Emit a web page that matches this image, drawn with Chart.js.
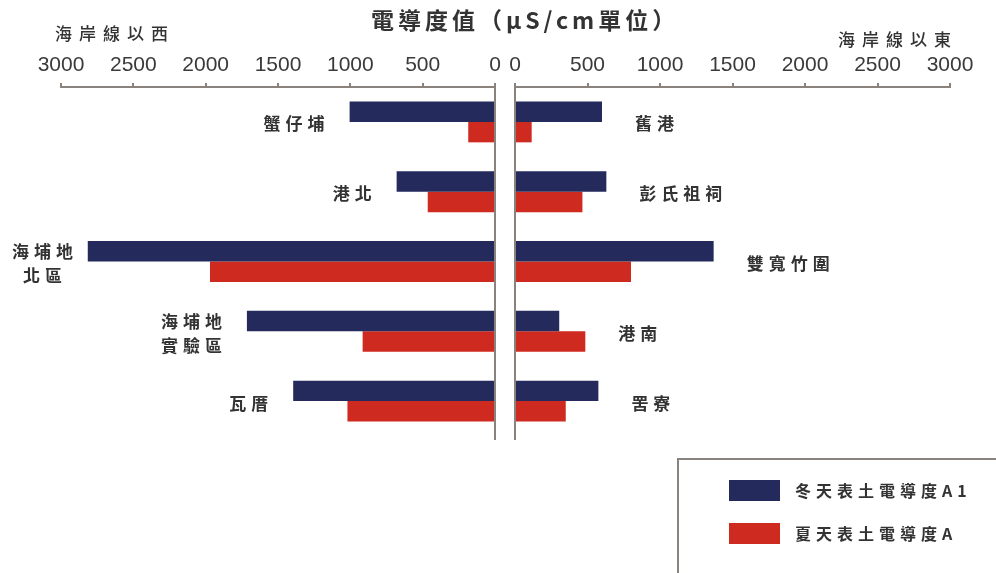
<!DOCTYPE html>
<html>
<head>
<meta charset="utf-8">
<script src="https://cdn.jsdelivr.net/npm/chart.js@4"></script>
<style>
  html, body { margin: 0; padding: 0; background: #fff; }
  body { width: 996px; height: 573px; position: relative; overflow: hidden; font-family: "Noto Sans CJK TC", sans-serif; color: #333; }
  canvas { position: absolute; left: 0; top: 0; }
  .txt { position: absolute; white-space: nowrap; line-height: 1; font-weight: 700; }
  #title { left: 371px; top: 8px; font-size: 23px; letter-spacing: 4px; }
  #west { left: 55px; top: 24px; font-size: 17px; letter-spacing: 7px; font-weight: 500; }
  #east { left: 838px; top: 30px; font-size: 17px; letter-spacing: 7px; font-weight: 500; }
  #legend { position: absolute; left: 677px; top: 458px; width: 340px; height: 200px; border: 2px solid #8a837d; }
  .item { position: absolute; left: 50px; height: 22px; }
  .sw { position: absolute; left: 0; top: 0; width: 51px; height: 21px; }
  .lab { position: absolute; left: 66px; top: 2px; font-size: 16px; letter-spacing: 5px; font-weight: 700; white-space: nowrap; line-height: 1; }
</style>
</head>
<body>
<canvas id="westChart" width="996" height="573"></canvas>
<canvas id="eastChart" width="996" height="573"></canvas>
<div class="txt" id="title">電導度值（μS/cm單位）</div>
<div class="txt" id="west">海岸線以西</div>
<div class="txt" id="east">海岸線以東</div>
<div id="legend"></div>
<script>
// sites west of the coastline (left) and east of it (right)
const westSites = ['蟹仔埔', '港北', ['海埔地', '北區'], ['海埔地', '實驗區'], '瓦厝'];
const eastSites = ['舊港', '彭氏祖祠', '雙寬竹圍', '港南', '罟寮'];

const seriesNames = ['冬天表土電導度A1', '夏天表土電導度A'];

// conductivity, uS/cm
const westWinter = [1005, 680, 2815, 1715, 1395];
const westSummer = [185, 465, 1970, 915, 1020];
const eastWinter = [600, 630, 1370, 305, 575];
const eastSummer = [115, 465, 800, 485, 350];

const axisTicks = [0, 500, 1000, 1500, 2000, 2500, 3000];

const NAVY = '#252a5c';
const RED = '#cf2a1f';
const AXIS = '#8a837d';
const INK = '#333';

const siteLabels = {
  id: 'siteLabels',
  afterDatasetsDraw(chart, args, opts) {
    const ctx = chart.ctx;
    const x = chart.scales.x, y = chart.scales.y;
    ctx.save();
    ctx.font = '700 17px "Noto Sans CJK TC"';
    ctx.letterSpacing = '5px';
    ctx.fillStyle = INK;
    ctx.textAlign = 'center';
    ctx.textBaseline = 'middle';
    chart.data.labels.forEach((lab, i) => {
      const lines = Array.isArray(lab) ? lab : [lab];
      const top = Math.max(...chart.data.datasets.map(d => d.data[i]));
      const px = x.getPixelForValue(top);
      const py = y.getPixelForValue(i) + 2;
      const w = Math.max(...lines.map(l => ctx.measureText(l).width)) - 5;
      let cx = opts.side === 'west' ? px - opts.gap - w / 2 : px + opts.gap + w / 2;
      if (cx - w / 2 < 12) cx = 12 + w / 2;
      const lh = 24;
      lines.forEach((l, k) => {
        ctx.fillText(l, cx + 2.5, py + (k - (lines.length - 1) / 2) * lh);
      });
    });
    // zero line
    const zx = x.getPixelForValue(0);
    ctx.strokeStyle = AXIS;
    ctx.lineWidth = 2;
    ctx.beginPath();
    ctx.moveTo(zx, x.bottom - 4);
    ctx.lineTo(zx, chart.chartArea.bottom + 4);
    ctx.stroke();
    ctx.restore();
  }
};

function makeChart(id, sites, winter, summer, reverse, padL, padR, side, gap) {
  return new Chart(document.getElementById(id), {
    type: 'bar',
    data: {
      labels: sites,
      datasets: [
        { label: seriesNames[0], data: winter, backgroundColor: NAVY, categoryPercentage: 0.586, barPercentage: 1 },
        { label: seriesNames[1], data: summer, backgroundColor: RED, categoryPercentage: 0.586, barPercentage: 1 }
      ]
    },
    options: {
      indexAxis: 'y',
      responsive: false,
      animation: false,
      devicePixelRatio: 1,
      layout: { padding: { left: padL, right: padR, top: 0, bottom: 137 } },
      plugins: {
        legend: { display: false },
        tooltip: { enabled: false },
        siteLabels: { side: side, gap: gap }
      },
      scales: {
        x: {
          position: 'top',
          reverse: reverse,
          min: 0,
          max: 3000,
          afterBuildTicks: s => { s.ticks = axisTicks.map(v => ({ value: v })); },
          ticks: {
            autoSkip: false, maxRotation: 0, padding: 5, color: '#3a3a3a',
            font: { family: 'Liberation Sans', size: 21 },
            callback: v => String(v)
          },
          grid: { drawOnChartArea: false, tickLength: 4, color: AXIS, lineWidth: 2 },
          border: { color: AXIS, width: 2 },
          afterFit: s => { s.height = 87; }
        },
        y: { display: false }
      }
    },
    plugins: [siteLabels]
  });
}

makeChart('westChart', westSites, westWinter, westSummer, true, 61, 501, 'west', 25);
makeChart('eastChart', eastSites, eastWinter, eastSummer, false, 515, 46, 'east', 33);

// legend box
const legend = document.getElementById('legend');
[NAVY, RED].forEach((c, i) => {
  const item = document.createElement('div');
  item.className = 'item';
  item.style.top = (20 + i * 43) + 'px';
  item.innerHTML = '<div class="sw" style="background:' + c + '"></div><div class="lab">' + seriesNames[i] + '</div>';
  legend.appendChild(item);
});
</script>
</body>
</html>
